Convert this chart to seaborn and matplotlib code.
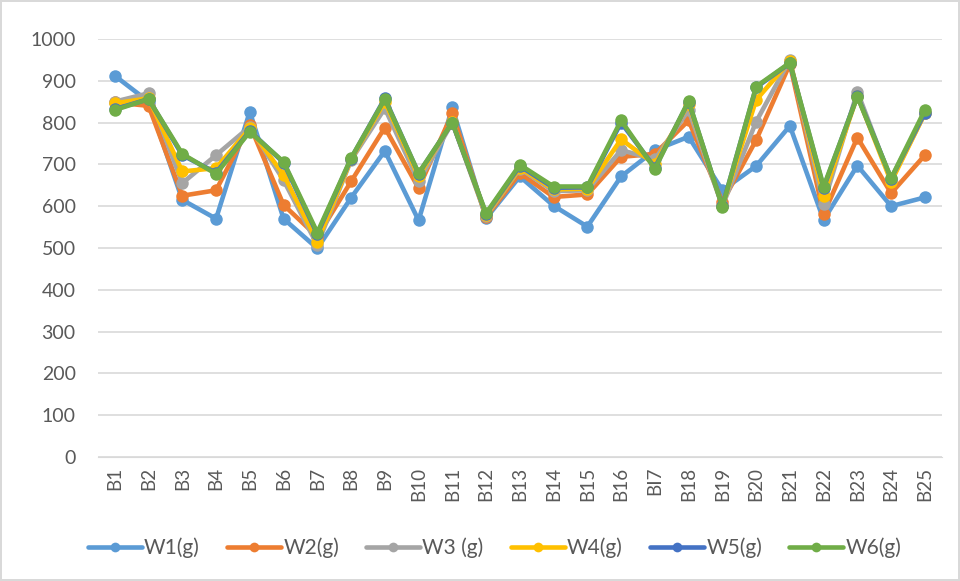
import matplotlib.pyplot as plt
import pandas as pd
import seaborn as sns

# Data
blocks = ['B1', 'B2', 'B3', 'B4', 'B5', 'B6', 'B7', 'B8', 'B9', 'B10', 'B11', 'B12', 'B13',
          'B14', 'B15', 'B16', 'BI7', 'B18', 'B19', 'B20', 'B21', 'B22', 'B23', 'B24', 'B25']
w1 = [912, 850, 615, 570, 826, 570, 499, 620, 732, 566, 836, 571, 671, 601, 551, 671, 734, 766, 638, 696, 792, 567, 697, 600, 621]
w2 = [848, 840, 625, 638, 794, 603, 527, 659, 788, 643, 822, 574, 679, 622, 628, 718, 725, 805, 610, 758, 940, 581, 764, 631, 722]
w3 = [850, 870, 655, 722, 790, 662, 507, 710, 834, 659, 800, 576, 690, 636, 638, 734, 712, 830, 600, 802, 950, 605, 874, 662, 822]
w4 = [846, 858, 683, 691, 786, 675, 515, 712, 850, 671, 802, 578, 692, 640, 642, 760, 700, 845, 600, 854, 947, 625, 864, 658, 822]
w5 = [832, 856, 722, 680, 780, 704, 533, 714, 858, 678, 800, 581, 696, 644, 645, 800, 692, 850, 600, 884, 942, 644, 864, 666, 824]
w6 = [830, 856, 725, 677, 778, 706, 537, 715, 856, 679, 800, 583, 699, 647, 647, 805, 689, 852, 599, 886, 943, 647, 862, 667, 830]

series = ['W1(g)', 'W2(g)', 'W3 (g)', 'W4(g)', 'W5(g)', 'W6(g)']
colors = ['#5B9BD5', '#ED7D31', '#A5A5A5', '#FFC000', '#4472C4', '#70AD47']

df = pd.DataFrame({'block': blocks, 'W1(g)': w1, 'W2(g)': w2, 'W3 (g)': w3,
                   'W4(g)': w4, 'W5(g)': w5, 'W6(g)': w6})
long_df = df.melt(id_vars='block', var_name='series', value_name='weight')

sns.set_style('white')
plt.rcParams['font.family'] = ['Lato', 'DejaVu Sans']

fig = plt.figure(figsize=(9.6, 5.81), dpi=100)
fig.patch.set_edgecolor('#d9d9d9')
fig.patch.set_linewidth(1.5)
ax = fig.add_axes([0.102, 0.2134, 0.879, 0.7196])

sns.lineplot(data=long_df, x='block', y='weight', hue='series', hue_order=series,
             palette=colors, marker='o', markersize=9, markeredgewidth=0,
             linewidth=3.3, sort=False, ax=ax)

ax.set_ylim(0, 1000)
ax.set_yticks(range(0, 1001, 100))
ax.set_xlim(-0.5, len(blocks) - 0.5)
ax.yaxis.grid(True, color='#d9d9d9', linewidth=1.2)
ax.set_axisbelow(True)
for s in ['top', 'right', 'left']:
    ax.spines[s].set_visible(False)
ax.spines['bottom'].set_color('#d9d9d9')
ax.spines['bottom'].set_zorder(0)
ax.tick_params(axis='x', rotation=90, labelsize=13.5, colors='#595959', length=0, pad=7)
ax.tick_params(axis='y', labelsize=14, colors='#595959', length=0, pad=16)
ax.set_xlabel('')
ax.set_ylabel('')

handles, labels = ax.get_legend_handles_labels()
leg = ax.legend(handles, labels, loc='center', bbox_to_anchor=(0.47, -0.218), ncol=6,
                frameon=False, fontsize=15, handlelength=2.6, columnspacing=1.3,
                handletextpad=0.1, labelcolor='#595959')
for h in leg.legend_handles:
    h.set_markersize(7)

fig.savefig('out.png', dpi=100)
